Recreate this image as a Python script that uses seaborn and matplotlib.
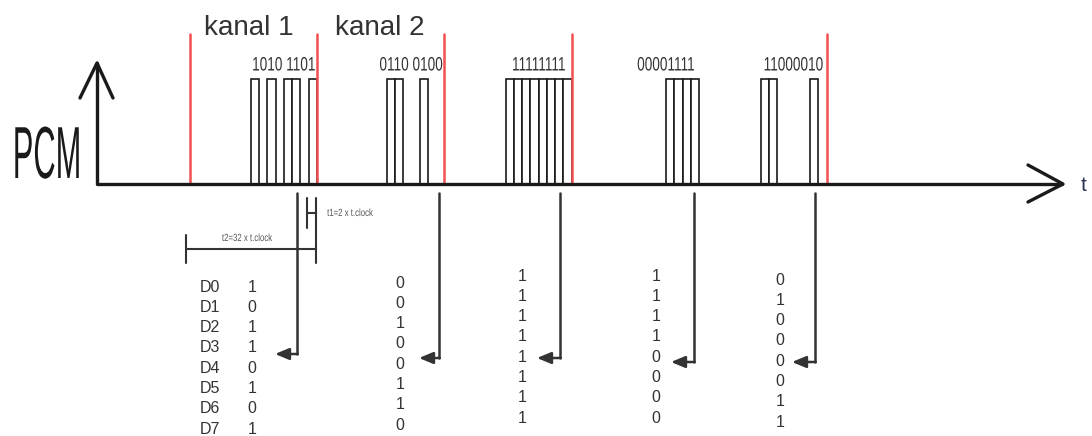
import numpy as np
import pandas as pd
import matplotlib
matplotlib.use("Agg")
import matplotlib.pyplot as plt
import seaborn as sns
from matplotlib.patheffects import AbstractPathEffect
from matplotlib.transforms import Affine2D

# ---------------- data ----------------
channel_titles = ["kanal 1", "kanal 2"]
pulse_words = ["10101101", "01100100", "11111111", "00001111", "11000010"]
word_labels = ["1010 1101", "0110 0100", "11111111", "00001111", "11000010"]
bit_names = ["D0", "D1", "D2", "D3", "D4", "D5", "D6", "D7"]
column_bits_1 = [1, 0, 1, 1, 0, 1, 0, 1]
column_bits_2 = [0, 0, 1, 0, 0, 1, 1, 0]
column_bits_3 = [1, 1, 1, 1, 1, 1, 1, 1]
column_bits_4 = [1, 1, 1, 1, 0, 0, 0, 0]
column_bits_5 = [0, 1, 0, 0, 0, 0, 1, 1]
column_bits = [column_bits_1, column_bits_2, column_bits_3, column_bits_4, column_bits_5]
y_label = "PCM"
x_label = "t"
t1_label = "t1=2 x t.clock"
t2_label = "t2=32 x t.clock"

# ---------------- layout ----------------
W, H = 1092, 436
base_y, pulse_top = 184, 79
t0, pitch, slot = 189.5, 127.4, 8.25
red_frames = [0, 1, 2, 3, 5]
red_top = 34
arrow_x = [297, 439, 560, 694, 815]
arrow_head_x = [275, 419, 537, 671, 792]
arrow_y = [354, 358, 358, 362, 362]
col_x = [252, 400, 522, 656, 780]
col_top = [287, 283, 276, 276, 280]
row_gap = 20.3
FONT = "Liberation Sans"
INK = "#1a1a1a"
GREY = "#333333"


class Squeeze(AbstractPathEffect):
    """Rescale text glyphs horizontally around their centre and vertically
    around their baseline (a condensed / tall lettering)."""
    def __init__(self, sx, sy=1.0):
        super().__init__()
        self.sx = sx
        self.sy = sy

    def draw_path(self, renderer, gc, tpath, affine, rgbFace=None):
        ext = tpath.get_extents(affine)
        cx = 0.5 * (ext.x0 + ext.x1)
        by = affine.transform((0, 0))[1]
        t = affine + Affine2D().translate(-cx, -by).scale(self.sx, self.sy).translate(cx, by)
        renderer.draw_path(gc, tpath, t, rgbFace)


sns.set_theme(style="white")
plt.rcParams["font.family"] = [FONT, "DejaVu Sans"]

fig = plt.figure(figsize=(W / 100, H / 100), dpi=100)
ax = fig.add_axes([0, 0, 1, 1])

# red frame markers
red_df = pd.DataFrame(
    [{"x": t0 + pitch * k, "y": y, "u": k} for k in red_frames for y in (red_top, base_y)]
)
sns.lineplot(data=red_df, x="x", y="y", units="u", estimator=None, sort=False,
             color="#f25050", lw=1.8, ax=ax, zorder=4)

# pulses
for k, word in enumerate(pulse_words):
    end = t0 + pitch * (k + 1)
    start = end - 8 * slot
    xs = [start + i * slot for i, b in enumerate(word) if b == "1"]
    ax.bar(xs, [pulse_top - base_y] * len(xs), bottom=base_y, width=slot, align="edge",
           facecolor="white", edgecolor=INK, linewidth=1.2, zorder=3)
    ax.text((start + end) / 2, 66, word_labels[k], ha="center", va="center",
            fontsize=14, color=GREY, path_effects=[Squeeze(0.7)], zorder=5)

# axes of the diagram
axis_df = pd.DataFrame({
    "x": [97, 97, 1062, 80, 97, 113, 1028, 1063, 1028],
    "y": [63, base_y, base_y, 98, 63, 98, 165, 184, 202],
    "u": [0, 0, 0, 1, 1, 1, 2, 2, 2],
})
sns.lineplot(data=axis_df, x="x", y="y", units="u", estimator=None, sort=False,
             color=INK, lw=2.4, ax=ax, zorder=6)

# channel titles
ax.text(249, 35, channel_titles[0], ha="center", va="baseline", fontsize=20, color=GREY)
ax.text(380, 35, channel_titles[1], ha="center", va="baseline", fontsize=20, color=GREY)

# axis labels
ax.text(47, 178, y_label, ha="center", va="baseline", fontsize=30, color=INK,
        path_effects=[Squeeze(0.74, 1.77)])
ax.text(1084, 185, x_label, ha="center", va="center", fontsize=15, color="#2b3550")

# arrows from each frame to its bit column
arr_rows = []
for k in range(len(arrow_x)):
    arr_rows += [{"x": arrow_x[k], "y": 193, "u": k}, {"x": arrow_x[k], "y": arrow_y[k], "u": k}]
sns.lineplot(data=pd.DataFrame(arr_rows), x="x", y="y", units="u", estimator=None,
             sort=False, color=GREY, lw=1.8, ax=ax)
for k in range(len(arrow_x)):
    ax.annotate("", xy=(arrow_head_x[k], arrow_y[k]), xytext=(arrow_x[k] + 0.8, arrow_y[k]),
                arrowprops=dict(arrowstyle="-|>,head_length=0.6,head_width=0.25",
                                color=GREY, lw=1.8, mutation_scale=14,
                                shrinkA=0, shrinkB=0))

# timing markers
ax.plot([307, 307], [198, 228], color=GREY, lw=1.5)
ax.plot([316, 316], [198, 263], color=GREY, lw=1.5)
ax.plot([307, 316], [213, 213], color=GREY, lw=1.5)
ax.plot([186, 316], [249, 249], color=GREY, lw=1.5)
ax.plot([186, 186], [235, 263], color=GREY, lw=1.5)
ax.text(350, 213, t1_label, ha="center", va="center", fontsize=7.5, color="#555555",
        path_effects=[Squeeze(0.75)])
ax.text(247, 238, t2_label, ha="center", va="center", fontsize=7.5, color="#555555",
        path_effects=[Squeeze(0.75)])

# bit columns
for i, name in enumerate(bit_names):
    ax.text(200, col_top[0] + i * row_gap, name, ha="left", va="center",
            fontsize=11.5, color=GREY)
for k, bits in enumerate(column_bits):
    for i, b in enumerate(bits):
        ax.text(col_x[k], col_top[k] + i * row_gap, str(b), ha="center", va="center",
                fontsize=11.5, color=GREY)

ax.set_xlim(0, W)
ax.set_ylim(H, 0)
ax.axis("off")
fig.savefig("out.png", dpi=100, facecolor="white")
